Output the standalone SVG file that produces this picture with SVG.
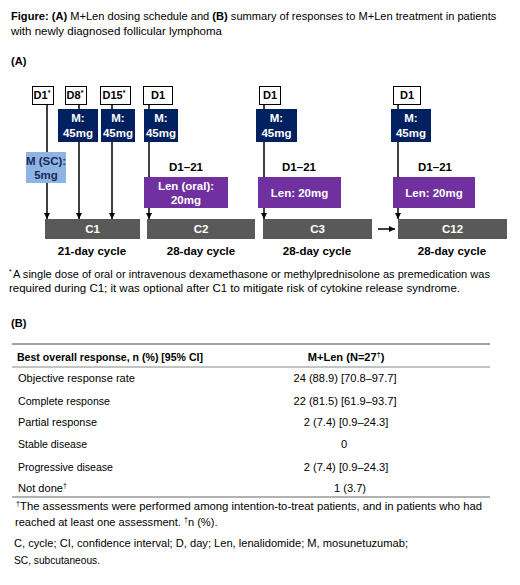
<svg xmlns="http://www.w3.org/2000/svg" width="520" height="585" viewBox="0 0 520 585">
<defs>
<marker id="ah" viewBox="0 0 10 10" refX="10" refY="5" markerWidth="6" markerHeight="6" markerUnits="userSpaceOnUse" orient="auto">
<path d="M0,0 L10,5 L0,10 z" fill="#000"/>
</marker>
<style>
text{font-family:"Liberation Sans",Arial,sans-serif;fill:#000}
.t{font-size:11.1px}
.b{font-weight:bold}
.day{fill:#fff;stroke:#000;stroke-width:1}
.dt{font-size:11px;font-weight:bold;text-anchor:middle}
.sup{font-size:7px}
.m{fill:#002060}
.sc{fill:#8eb4e3}
.len{fill:#7030a0}
.bar{fill:#595959}
.w{fill:#fff;font-size:11.5px;font-weight:bold;text-anchor:middle}
.k{fill:#000;font-size:11.5px;font-weight:bold;text-anchor:middle}
.ln{stroke:#000;stroke-width:1.5;fill:none}
.rule{stroke:#595959;stroke-width:1}
.c{text-anchor:middle}
</style>
</defs>
<rect width="520" height="585" fill="#fff"/>

<text class="t" x="11" y="20"><tspan class="b">Figure:</tspan> <tspan class="b">(A)</tspan> M+Len dosing schedule and <tspan class="b">(B)</tspan> summary of responses to M+Len treatment in patients</text>
<text class="t" x="11" y="35" textLength="211" lengthAdjust="spacingAndGlyphs">with newly diagnosed follicular lymphoma</text>
<text class="t b" x="11" y="65">(A)</text>

<g id="connectors">
<line class="ln" x1="47" y1="104" x2="47" y2="219" marker-end="url(#ah)"/>
<line class="ln" x1="79" y1="104" x2="79" y2="219" marker-end="url(#ah)"/>
<line class="ln" x1="112" y1="104" x2="112" y2="219" marker-end="url(#ah)"/>
<line class="ln" x1="149" y1="104" x2="149" y2="219" marker-end="url(#ah)"/>
<line class="ln" x1="264" y1="104" x2="264" y2="219" marker-end="url(#ah)"/>
<line class="ln" x1="398" y1="104" x2="398" y2="219" marker-end="url(#ah)"/>
<line class="ln" x1="378" y1="229" x2="395" y2="229" marker-end="url(#ah)"/>
</g>

<g id="day-c1-d1"><rect class="day" x="32.5" y="86.5" width="21" height="18"/><text class="dt" x="42" y="99">D1<tspan class="sup" dy="-4">*</tspan></text></g>
<g id="day-c1-d8"><rect class="day" x="65.5" y="86.5" width="21" height="18"/><text class="dt" x="75" y="99">D8<tspan class="sup" dy="-4">*</tspan></text></g>
<g id="day-c1-d15"><rect class="day" x="100.5" y="86.5" width="30" height="18"/><text class="dt" x="114" y="99">D15<tspan class="sup" dy="-4">*</tspan></text></g>
<g id="day-c2-d1"><rect class="day" x="143.5" y="86.5" width="29" height="18"/><text class="dt" x="158" y="99">D1</text></g>
<g id="day-c3-d1"><rect class="day" x="259.5" y="86.5" width="21" height="18"/><text class="dt" x="270" y="99">D1</text></g>
<g id="day-c12-d1"><rect class="day" x="393.5" y="86.5" width="27" height="18"/><text class="dt" x="407" y="99">D1</text></g>

<g id="m-d8"><rect class="m" x="58" y="109" width="40" height="33"/><text class="w" x="78" y="122">M:</text><text class="w" x="78" y="137">45mg</text></g>
<g id="m-d15"><rect class="m" x="101" y="109" width="34" height="33"/><text class="w" x="118" y="122">M:</text><text class="w" x="118" y="137">45mg</text></g>
<g id="m-c2"><rect class="m" x="144" y="109" width="34" height="33"/><text class="w" x="161" y="122">M:</text><text class="w" x="161" y="137">45mg</text></g>
<g id="m-c3"><rect class="m" x="256" y="109" width="41" height="33"/><text class="w" x="276.5" y="122">M:</text><text class="w" x="276.5" y="137">45mg</text></g>
<g id="m-c12"><rect class="m" x="391" y="109" width="40" height="33"/><text class="w" x="411" y="122">M:</text><text class="w" x="411" y="137">45mg</text></g>

<g id="m-sc"><rect class="sc" x="26" y="152" width="40" height="31"/><text class="k" x="46" y="165" style="fill:#1a2a5a">M (SC):</text><text class="k" x="46" y="179" style="fill:#1a2a5a">5mg</text></g>

<g id="len-c2"><text class="k" x="186" y="171">D1–21</text><rect class="len" x="144" y="177" width="84" height="31"/><text class="w" x="186" y="190">Len (oral):</text><text class="w" x="186" y="204">20mg</text></g>
<g id="len-c3"><text class="k" x="299" y="171">D1–21</text><rect class="len" x="258" y="177" width="83" height="31"/><text class="w" x="299.5" y="197">Len: 20mg</text></g>
<g id="len-c12"><text class="k" x="435" y="171">D1–21</text><rect class="len" x="393" y="177" width="82" height="31"/><text class="w" x="434" y="197">Len: 20mg</text></g>

<g id="c1"><rect class="bar" x="45" y="219" width="95" height="20"/><text class="w" x="92.5" y="233">C1</text><text class="k" x="92" y="255">21-day cycle</text></g>
<g id="c2"><rect class="bar" x="147" y="219" width="108" height="20"/><text class="w" x="201" y="233">C2</text><text class="k" x="201" y="255">28-day cycle</text></g>
<g id="c3"><rect class="bar" x="263" y="219" width="109" height="20"/><text class="w" x="317.5" y="233">C3</text><text class="k" x="317" y="255">28-day cycle</text></g>
<g id="c12"><rect class="bar" x="398" y="219" width="109" height="20"/><text class="w" x="452.5" y="233">C12</text><text class="k" x="452" y="255">28-day cycle</text></g>

<text class="sup" x="9" y="274">*</text>
<text class="t" x="13" y="278" textLength="477" lengthAdjust="spacingAndGlyphs">A single dose of oral or intravenous dexamethasone or methylprednisolone as premedication was</text>
<text class="t" x="9" y="292" textLength="451" lengthAdjust="spacingAndGlyphs">required during C1; it was optional after C1 to mitigate risk of cytokine release syndrome.</text>

<text class="t b" x="11" y="327">(B)</text>

<g id="table">
<line class="rule" x1="12" y1="344" x2="490" y2="344" style="stroke:#444"/>
<text class="t b" x="17" y="361" textLength="186" lengthAdjust="spacingAndGlyphs">Best overall response, n (%) [95% CI]</text>
<text class="t b c" x="346" y="361">M+Len (N=27<tspan class="sup" dy="-4">†</tspan><tspan dy="4">)</tspan></text>
<line class="rule" x1="12" y1="367" x2="490" y2="367" style="stroke:#888"/>
<text class="t" x="18" y="382" textLength="117" lengthAdjust="spacingAndGlyphs">Objective response rate</text>
<text class="t c" x="345" y="382">24 (88.9) [70.8–97.7]</text>
<text class="t" x="18" y="405" textLength="92" lengthAdjust="spacingAndGlyphs">Complete response</text>
<text class="t c" x="345" y="405">22 (81.5) [61.9–93.7]</text>
<text class="t" x="18" y="426" textLength="79" lengthAdjust="spacingAndGlyphs">Partial response</text>
<text class="t c" x="346" y="426">2 (7.4) [0.9–24.3]</text>
<text class="t" x="18" y="448" textLength="69" lengthAdjust="spacingAndGlyphs">Stable disease</text>
<text class="t c" x="344" y="448">0</text>
<text class="t" x="18" y="471" textLength="95" lengthAdjust="spacingAndGlyphs">Progressive disease</text>
<text class="t c" x="346" y="471">2 (7.4) [0.9–24.3]</text>
<text class="t" x="18" y="492">Not done<tspan class="sup" dy="-4">†</tspan></text>
<text class="t c" x="350" y="492">1 (3.7)</text>
<line class="rule" x1="12" y1="497" x2="490" y2="497" style="stroke:#666"/>
</g>

<text class="sup" x="16" y="506">†</text>
<text class="t" x="20" y="510" textLength="462" lengthAdjust="spacingAndGlyphs">The assessments were performed among intention-to-treat patients, and in patients who had</text>
<text class="t" x="15" y="526">reached at least one assessment. <tspan class="sup" dy="-4">†</tspan><tspan dy="4">n (%).</tspan></text>

<text class="t" x="14" y="547" textLength="394" lengthAdjust="spacingAndGlyphs">C, cycle; CI, confidence interval; D, day; Len, lenalidomide; M, mosunetuzumab;</text>
<text class="t" x="14" y="564" textLength="86" lengthAdjust="spacingAndGlyphs">SC, subcutaneous.</text>
</svg>
